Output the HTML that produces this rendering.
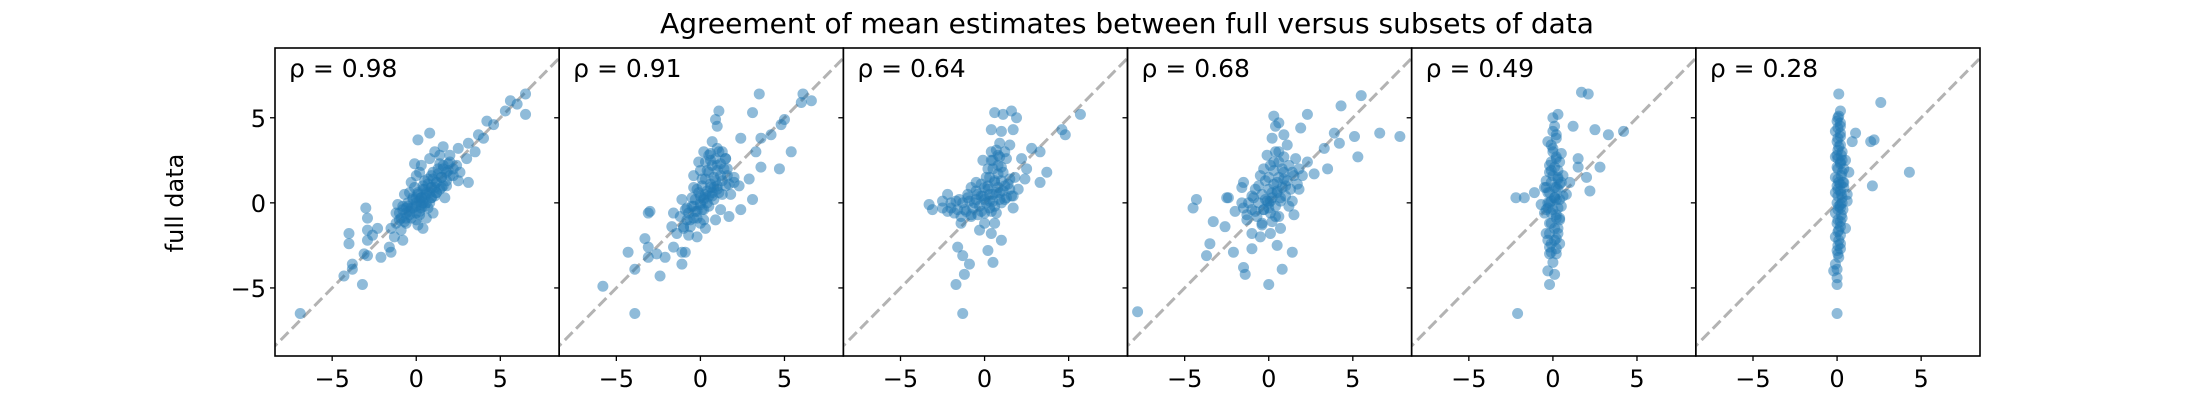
<!DOCTYPE html>
<html><head><meta charset="utf-8"><style>
body{margin:0;background:#fff;}
svg{display:block;font-family:"DejaVu Sans","Liberation Sans",sans-serif;}
</style></head><body>
<svg id="fig" width="2200" height="400" viewBox="0 0 2200 400">
<rect width="2200" height="400" fill="#fff"/>
<text x="1127" y="33" font-size="28" text-anchor="middle">Agreement of mean estimates between full versus subsets of data</text>
<text transform="translate(183,203) rotate(-90)" font-size="24" text-anchor="middle">full data</text>
<g id="panels"></g>
</svg>
<script>
const rhoLabels = ["0.98","0.91","0.64","0.68","0.49","0.28"];
const xTicks = [-5,0,5];
const yTicks = [-5,0,5];
const xDomain = [-8.4,8.5];
const yDomain = [-9.0,9.1];
const panel1 = [[-6.9,-6.5],[-4.3,-4.3],[-3.2,-4.8],[-3.8,-3.9],[-3.8,-3.6],[-4,-2.4],[-4,-1.8],[-2.9,-2.2],[-2.9,-1.6],[-2.9,-3.1],[-3.1,-3.0],[-2.6,-1.9],[-2.1,-3.2],[-1.6,-2.6],[-1.5,-2.9],[-2.3,-1.5],[-1.3,-2.0],[-0.8,-2.2],[-2.9,-0.9],[-3,-0.3],[0.1,3.7],[0.8,4.1],[6.5,6.4],[6.5,5.2],[5.6,6.0],[6.0,5.8],[5.3,5.4],[4.2,4.8],[4.6,4.6],[3.7,4.0],[4,3.8],[3.1,3.5],[3.5,3.0],[2.5,3.2],[3.0,2.6],[3.1,1.2],[2.6,1.8],[2.0,2.8],[1.1,3.0],[1.6,3.3],
[-1.2,-0.6],[-1,-1],[-0.8,-0.4],[-0.6,-1.2],[-0.5,0],[-0.4,-0.7],[-0.2,-0.3],[0,0],[0,-1],[0.1,0.6],[0.2,-0.5],[0.3,0.3],[0.4,1.0],[0.5,-0.2],[0.6,0.5],[0.7,1.4],[0.8,0],[0.9,0.9],[1,1.8],[1.1,0.4],[1.2,1.2],[1.3,2.0],[1.4,0.8],[1.5,1.5],[1.6,2.2],[1.8,1.0],[1.9,1.9],[2,2.4],[2.2,1.6],[-0.3,1.2],[-0.4,0.6],[0,1.6],[0.3,2.2],[0.6,-0.9],[1.7,0.3],[2.4,2.2],[-1.5,-1.5],[-1.1,-0.1],[-0.9,-1.6],[0.1,-1.3],[-0.7,0.5],[0.4,-1.5],[1,-0.6],[2.5,1.3],[0.2,1.8],[-0.1,2.3],[0.8,2.6],[1.4,2.8],[-0.2,0.3],[0.5,0.8],[0.9,0.3],[0.3,-0.1],[-0.6,-0.3],[1.2,0.6]];
const core1 = [[-1.2,-1.2],[-1.0,-0.6],[-0.7,-1.1],[-0.9,-0.9],[-0.6,-0.6],[-0.3,-0.9],[-0.5,-0.2],[-0.3,-0.3],[0,-0.6],[-0.2,0.2],[0,0.3],[0.3,-0.3],[0.1,0.5],[0.3,0.3],[0.6,0],[0.4,0.8],[0.6,0.6],[0.9,0.3],[0.7,1.1],[0.9,0.9],[1.2,0.6],[1.0,1.4],[1.2,1.2],[1.5,0.9],[1.3,1.7],[1.5,1.5],[1.8,1.3],[1.6,2.0],[1.8,1.8],[2.0,1.6],[1.9,2.3],[2.2,2.0],[0,-0.2],[0.2,0.1],[0.5,0.3],[0.8,0.6],[1.1,0.9],[-0.4,-0.5],[0.2,-0.7],[-0.6,-0.9],[0.5,1.3],[1.4,2.3],[0.9,1.6],[-0.1,0.9],[1.6,1.0],[0.4,0.0],[-0.8,-0.2],[0.7,-0.3]];
const panel2 = [[-5.8,-4.9],[-3.9,-6.5],[-4.3,-2.9],[-3.9,-3.9],[-3.3,-2.1],[-2.4,-4.3],[-2.1,-3.2],[-3.1,-3.2],[-3.1,-2.6],[-2.6,-3.0],[-3.1,-0.6],[-3,-0.5],[-1.7,-1.4],[-1.6,-2.6],[-1.1,-2.9],[-1.1,-3.6],[-0.9,-2.9],[3.5,6.4],[6.1,6.4],[6.6,6.0],[6.0,5.9],[1.1,5.4],[0.9,4.9],[1.0,4.5],[3.1,5.3],[5.0,4.9],[4.8,4.6],[4.2,4.0],[5.4,3.0],[4.7,2.0],[3.6,2.1],[2.4,3.8],[3.6,3.8],[3.3,3.0],[2.0,1.2],[2.9,1.4],[3.1,0.2],[2.4,-0.4],[1.7,-0.8],
[-1.2,-0.8],[-1,-1.4],[-0.8,-0.3],[-0.6,-1],[-0.5,0.3],[-0.3,-0.5],[-0.2,0.8],[0,0],[0,-1.2],[0.1,1.4],[0.2,-0.4],[0.3,0.5],[0.4,1.9],[0.5,-0.2],[0.6,0.9],[0.6,2.5],[0.8,0.2],[0.9,1.3],[1,2.2],[1.1,0.6],[1.2,1.6],[1.3,3.0],[1.5,1.0],[1.6,2.0],[1.8,0.5],[2,1.5],[-0.4,1.6],[-0.1,2.4],[0.2,3.0],[0.7,3.6],[1,3.2],[-1.4,-1.8],[-1.1,0.2],[-0.7,-1.9],[0.3,-1.5],[1.2,-0.4],[2.3,1.0],[-1.6,-0.6],[0.5,2.8],[1.5,2.6],[-0.2,-2],[0.9,-1.0],[0.2,0.2],[0.7,0.6],[-0.4,-0.2],[1.0,1.0]];
const core2 = [[-1,-1.5],[-0.8,-1],[-0.6,-1.4],[-0.7,-0.6],[-0.4,-0.9],[-0.5,-0.2],[-0.2,-0.5],[-0.3,0.2],[0,-0.1],[-0.1,0.6],[0.2,0.3],[0.1,1.0],[0.4,0.7],[0.3,1.4],[0.6,1.1],[0.5,1.8],[0.8,1.5],[0.7,2.2],[1.0,1.9],[0.9,2.6],[1.2,2.3],[1.1,3.0],[1.4,2.0],[1.6,1.6],[1.3,1.3],[1.0,0.8],[0.7,0.4],[0.4,0.0],[0.1,-0.4],[-0.2,-0.9],[0.2,-1.0],[-0.4,0.9],[0.0,1.9],[0.3,2.4],[0.6,2.9],[1.5,2.6],[1.7,1.1],[1.3,0.5],[-0.9,-0.4],[0,0.4],[0.5,0.4],[0.8,0.9]];
const panel3 = [[-1.3,-6.5],[-1.7,-4.8],[-1.2,-4.2],[-0.9,-3.6],[-1.3,-3.1],[-1.6,-2.6],[0.5,-3.5],[0.2,-2.8],[1,-2.2],[-3.1,-0.4],[-3.3,-0.1],[-2.5,0.1],[-2.2,-0.5],[0.6,5.3],[1.1,5.2],[1.6,5.4],[1.9,5.0],[1.0,4.2],[0.4,4.3],[1.7,4.3],[4.8,4.0],[5.7,5.2],[4.6,4.3],[2.8,3.2],[3.3,3.0],[2.2,2.6],[2.5,2.0],[3.3,1.2],[3.7,1.8],[1.5,3.4],[1.2,3.0],[0.8,2.8],
[-2.5,-0.3],[-2,0],[-1.8,-0.6],[-1.5,0.2],[-1.2,-0.4],[-1,0.3],[-0.8,-0.8],[-0.6,0],[-0.4,0.5],[-0.2,-0.5],[0,0.2],[0.2,0.8],[0.3,-0.3],[0.5,0.5],[0.6,1.3],[0.7,-0.6],[0.9,0.6],[1.1,1.8],[1.2,0.2],[1.4,1.1],[1.6,0.4],[1.8,1.5],[2,0.8],[0.2,2.0],[0.5,2.5],[0.8,2.2],[0.4,3.0],[0.9,3.5],[1.3,2.6],[0,-1.2],[-0.3,-1.6],[0.4,-1.8],[-0.5,1.2],[-1.4,-1.2],[-2.2,0.5],[1.7,-0.3],[2.4,1.4],[0.1,1.5],[-0.8,0.9],[0.6,-1.2],[-0.1,2.5],[0.3,0.1],[0.8,0.9],[-0.2,0.4],[1.0,0.0]];
const core3 = [[-2,-0.3],[-1.7,0.1],[-1.6,-0.4],[-1.3,0],[-1.1,-0.5],[-0.9,0.1],[-0.7,-0.3],[-0.5,0.2],[-0.3,-0.2],[-0.1,0.4],[0.1,0],[0.3,0.5],[0.5,0.1],[0.7,0.6],[0.9,0.2],[1.1,0.7],[1.3,0.3],[1.5,0.8],[1.7,0.4],[-0.4,-0.7],[0,-0.6],[0.4,-0.5],[-1.0,0.5],[-0.5,0.7],[0.2,1.0],[0.6,1.2],[1.0,1.3],[0.3,1.5],[0.8,1.7],[0.5,2.0],[1.0,2.1],[0.4,2.5],[0.9,2.7],[0.7,3.1],[1.2,1.0],[1.5,1.4],[0,0.9],[-0.2,1.1],[0.6,-0.2],[-1.4,-0.8],[-0.8,-0.7]];
const panel4 = [[-7.8,-6.4],[-4.5,-0.3],[-4.3,0.2],[-3.5,-2.4],[-3.7,-3.1],[-3.3,-1.1],[-2.6,-1.4],[-2.1,-2.9],[-1.5,-3.8],[-1.4,-4.2],[-1,-2.7],[0,-4.8],[0.8,-3.9],[1.4,-2.9],[0.3,5.1],[0.6,4.7],[1.9,4.4],[2.3,5.2],[4.3,5.7],[5.5,6.3],[3.9,4.1],[5.1,3.9],[3.3,3.2],[4.2,3.5],[7.8,3.9],[6.6,4.1],[5.3,2.7],[3.5,2.0],[2.7,1.7],[-1.6,0.9],[-2.5,0.3],
[-2,-0.5],[-1.6,0],[-1.3,-1],[-1,0.4],[-0.8,-0.5],[-0.6,1],[-0.4,-1.2],[-0.2,0.2],[0,-0.3],[0,1.5],[0.2,0.6],[0.3,2.4],[0.4,-0.8],[0.5,1.2],[0.6,3.0],[0.7,0.3],[0.8,2.0],[1,1],[1.1,3.4],[1.2,-0.2],[1.4,1.8],[1.6,2.6],[1.8,0.8],[2,1.6],[0.2,3.8],[-0.1,2.8],[0.9,4.0],[-0.5,-2],[0.1,-1.8],[0.5,-2.5],[-1,-1.8],[-2.4,0.3],[2.3,2.4],[-0.3,2],[0.4,4.5],[1.5,-0.7],[-1.5,1.2],[0.7,-1.5],[0.1,0.1],[0.5,0.7],[-0.3,-0.4],[0.9,1.4]];
const core4 = [[-1.5,-0.3],[-1.2,0],[-1.3,-0.7],[-1,-0.4],[-0.9,0.3],[-0.7,-0.8],[-0.6,0],[-0.4,0.5],[-0.3,-0.4],[-0.1,0.1],[0,0.8],[0.1,-0.6],[0.2,0.3],[0.3,1.1],[0.4,-0.2],[0.5,0.6],[0.6,1.5],[0.7,0.1],[0.8,0.9],[0.9,1.8],[1.0,0.4],[1.1,1.3],[1.2,2.2],[1.3,0.8],[1.5,1.6],[1.7,1.1],[0.3,1.9],[0.6,2.4],[0.1,2.2],[0.9,2.7],[0.4,3.0],[-0.2,1.3],[-0.5,1.6],[0.2,-1.1],[-0.4,-1.3],[0.6,-0.8],[1.8,2.0],[1.4,0.1],[-0.8,0.8],[0,0]];
const panel5 = [[-2.1,-6.5],[-2.2,0.3],[-1.7,0.3],[-1.1,0.6],[2.5,4.3],[3.3,4.0],[2.8,2.1],[1.7,6.5],[2.1,6.4],[1.2,4.5],[1.5,2.6],[2.0,1.5],[2.2,0.7],[1.5,2.1],[-0.2,-4.8],[0.1,-4.2],[4.2,4.2],
[-0.3,-4],[0,-3.5],[0.2,-3],[-0.2,-2.6],[0.1,-2.2],[-0.4,-1.8],[0.3,-1.5],[-0.1,-1.2],[0.4,-0.9],[-0.5,-0.6],[0,-0.4],[0.5,-0.2],[-0.3,0],[0.2,0.2],[0.6,0.4],[-0.2,0.6],[0.1,0.9],[0.4,1.1],[-0.4,1.3],[0,1.6],[0.3,1.9],[-0.2,2.2],[0.2,2.6],[0.5,2.9],[0,3.2],[-0.3,3.6],[0.2,4],[0.1,4.5],[0,5],[0.3,5.2],[-0.1,-2.9],[0.4,-2.4],[-0.3,-0.3],[0.3,0.8],[-0.1,1.9],[0.6,1.6],[0.8,0.5],[-0.7,-0.1],[1,1.2],[-0.5,0.9],[0.1,0.3],[0.2,-0.7],[-0.1,0.1],[0.3,1.4]];
const core5 = [[-0.2,-3.0],[0.2,-2.7],[-0.1,-2.4],[0.2,-2.1],[-0.2,-1.8],[0.1,-1.5],[-0.2,-1.2],[0.2,-0.9],[-0.1,-0.6],[0.3,-0.3],[-0.2,0.0],[0.1,0.3],[-0.3,0.6],[0.2,0.9],[-0.1,1.2],[0.3,1.5],[-0.2,1.8],[0.1,2.1],[-0.1,2.4],[0.2,2.7],[0,3.0],[-0.1,3.4],[0.2,3.8],[0,4.2],[0.4,-1.0],[-0.4,-0.4],[0.4,0.2],[-0.4,0.9],[0.5,1.2],[0.4,2.4],[-0.3,-2.2],[0.3,-1.8]];
const panel6 = [[2.6,5.9],[2.2,3.7],[2.0,3.6],[4.3,1.8],[2.1,1.0],[1.1,4.1],[0.6,0.1],[0,-6.5],[0,-4.8],[0,-4.4],[0,-3.9],
[-0.1,-3.6],[0.1,-3.2],[0,-2.8],[0.2,-2.4],[-0.1,-2],[0.1,-1.6],[0,-1.2],[0.3,-0.9],[-0.1,-0.6],[0.2,-0.3],[0,0],[0.3,0.3],[-0.1,0.6],[0.4,0.9],[0.1,1.2],[-0.1,1.5],[0.3,1.8],[0,2.1],[0.2,2.4],[-0.1,2.7],[0.3,3.0],[0.1,3.3],[0,3.6],[0.2,3.9],[-0.1,4.2],[0.2,4.5],[0,4.8],[0.1,5.1],[0.2,5.4],[0.1,6.4],[0.4,1.2],[0.6,0.5],[0.7,1.8],[0.5,2.5],[0.9,3.6],[0.5,-1.5],[-0.2,-4],[0.1,-2.2],[0.2,0.7],[0,2.8],[0.1,-0.2],[0,1.0],[0.2,-1.1]];
const core6 = [[0.05,-3.0],[0.2,-2.7],[0.05,-2.5],[0.2,-1.9],[0.05,-1.7],[0.2,-1.4],[0.05,-1.0],[0.25,-0.7],[0.05,-0.4],[0.2,-0.1],[0.05,0.4],[0.25,0.5],[0.05,0.8],[0.2,1.1],[0.05,1.4],[0.25,1.6],[0.05,2.0],[0.2,2.3],[0.05,2.6],[0.25,2.8],[0.05,3.1],[0.2,3.4],[0.05,3.8],[0.2,4.1],[0.05,4.4],[0.2,4.7],[0.05,5.0],[0.3,0.0],[0.35,1.2],[0.4,2.0],[0.3,2.5],[0.35,-0.4]];
const panelData = [panel1.concat(core1),panel2.concat(core2),panel3.concat(core3),panel4.concat(core4),panel5.concat(core5),panel6.concat(core6)];

const NS="http://www.w3.org/2000/svg";
const root=document.getElementById('panels');
const L0=275, PW=(1980-275)/6, TOP=48, BOT=356;
function mk(tag,attrs,parent){const e=document.createElementNS(NS,tag);for(const k in attrs)e.setAttribute(k,attrs[k]);parent.appendChild(e);return e;}
panelData.forEach((pts,i)=>{
  const left=L0+i*PW;
  const sx=v=>left+(v-xDomain[0])/(xDomain[1]-xDomain[0])*PW;
  const sy=v=>BOT-(v-yDomain[0])/(yDomain[1]-yDomain[0])*(BOT-TOP);
  const g=mk('g',{},root);
  
  
  const cp=mk('clipPath',{id:'cp'+i},g);
  mk('rect',{x:left,y:TOP,width:PW,height:BOT-TOP},cp);
  const lo=Math.max(xDomain[0],yDomain[0])-1, hi=Math.min(xDomain[1],yDomain[1])+1;
  const diag=mk('line',{x1:sx(lo),y1:sy(lo),x2:sx(hi),y2:sy(hi),stroke:'#b3b3b3','stroke-width':3,'stroke-dasharray':'11,5','clip-path':'url(#cp'+i+')'},g);
  
  
  const pg=mk('g',{'clip-path':'url(#cp'+i+')'},g);
  pts.forEach(p=>{
    const c=mk('circle',{cx:sx(p[0]),cy:sy(p[1]),r:5.5,fill:'#1f77b4','fill-opacity':0.5},pg);
    
    
  });
  const fr=mk('rect',{x:left,y:TOP,width:PW,height:BOT-TOP,fill:'none',stroke:'#000','stroke-width':1.6},g);
  
  
  xTicks.forEach(t=>{
    mk('line',{x1:sx(t),x2:sx(t),y1:BOT,y2:BOT+5,stroke:'#000','stroke-width':1.3},g);
    const tx=mk('text',{x:sx(t),y:BOT+31,'font-size':24,'text-anchor':'middle'},g);
    tx.textContent=t<0?'\u2212'+Math.abs(t):String(t);
    
    
  });
  yTicks.forEach(t=>{
    mk('line',{x1:left-5,x2:left,y1:sy(t),y2:sy(t),stroke:'#000','stroke-width':1.3},g);
    if(i===0){
      const ty=mk('text',{x:left-9,y:sy(t)+9,'font-size':24,'text-anchor':'end'},g);
      ty.textContent=t<0?'\u2212'+Math.abs(t):String(t);
      
      
    }
  });
  const an=mk('text',{x:left+14,y:TOP+29,'font-size':25},g);
  an.textContent='\u03c1 = '+rhoLabels[i];
  
  
});
</script>
</body></html>
